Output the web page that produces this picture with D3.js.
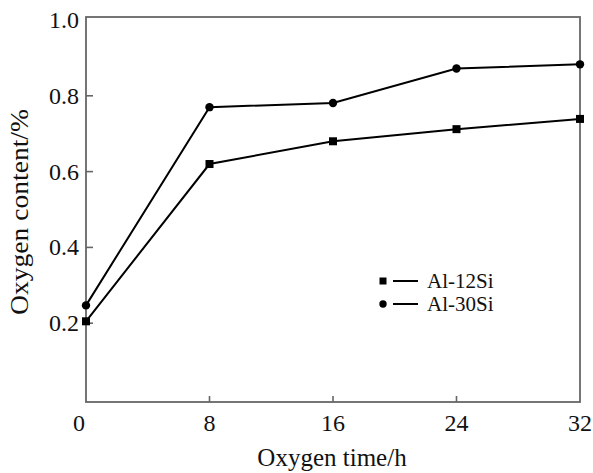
<!DOCTYPE html>
<html>
<head>
<meta charset="utf-8">
<script src="https://cdn.jsdelivr.net/npm/d3@7"></script>
<style>
  body { margin: 0; background: #fff; }
  text { font-family: "Liberation Serif", "Times New Roman", serif; fill: #111; }
</style>
</head>
<body>
<div id="chart"></div>
<script>
// data
const hours = [0, 8, 16, 24, 32];
const al12Si = [0.205, 0.62, 0.68, 0.712, 0.739];
const al30Si = [0.247, 0.77, 0.781, 0.872, 0.883];
const xTicks = [0, 8, 16, 24, 32];
const yTicks = [0.2, 0.4, 0.6, 0.8, 1.0];

const W = 593, H = 473;
const plotL = 86, plotR = 580, plotT = 17, plotB = 402;

const svg = d3.select("#chart").append("svg")
  .attr("width", W)
  .attr("height", H);

const x = d3.scaleLinear().domain([0, 32]).range([plotL, plotR]);
const y = d3.scaleLinear().domain([0, 1]).range([399, 20]);

// frame
svg.append("rect")
  .attr("x", plotL).attr("y", plotT)
  .attr("width", plotR - plotL).attr("height", plotB - plotT)
  .attr("fill", "none")
  .attr("stroke", "#666")
  .attr("stroke-width", 1.8);

// x ticks (inward) + labels
svg.selectAll(".xtick")
  .data(xTicks.filter(d => d > 0 && d < 32))
  .join("line")
    .attr("x1", d => x(d)).attr("x2", d => x(d))
    .attr("y1", plotB).attr("y2", plotB - 6)
    .attr("stroke", "#666").attr("stroke-width", 1.6);

svg.selectAll(".xlab")
  .data(xTicks)
  .join("text")
    .attr("x", d => d === 0 ? x(d) - 7 : x(d))
    .attr("y", 431)
    .attr("text-anchor", "middle")
    .style("font-size", "24px")
    .text(d => d);

// y ticks (inward) + labels
svg.selectAll(".ytick")
  .data(yTicks.filter(d => d < 1))
  .join("line")
    .attr("x1", plotL).attr("x2", plotL + 7)
    .attr("y1", d => y(d)).attr("y2", d => y(d))
    .attr("stroke", "#666").attr("stroke-width", 1.6);

svg.selectAll(".ylab")
  .data(yTicks)
  .join("text")
    .attr("x", 79)
    .attr("y", d => y(d) + 8)
    .attr("text-anchor", "end")
    .style("font-size", "24px")
    .text(d => d3.format(".1f")(d));

// axis titles
svg.append("text")
  .attr("x", 332).attr("y", 466)
  .attr("text-anchor", "middle")
  .style("font-size", "25px")
  .text("Oxygen time/h");

svg.append("text")
  .attr("transform", "translate(28,212) rotate(-90)")
  .attr("text-anchor", "middle")
  .attr("textLength", 206)
  .attr("lengthAdjust", "spacingAndGlyphs")
  .style("font-size", "25px")
  .text("Oxygen content/%");

const line = d3.line()
  .x((d, i) => x(hours[i]))
  .y(d => y(d));

const series = [
  { name: "Al-12Si", values: al12Si, shape: "square" },
  { name: "Al-30Si", values: al30Si, shape: "circle" }
];

function drawMarker(g, shape, cx, cy, s) {
  if (shape === "square") {
    g.append("rect")
      .attr("x", cx - s / 2).attr("y", cy - s / 2)
      .attr("width", s).attr("height", s)
      .attr("fill", "#000");
  } else {
    g.append("circle")
      .attr("cx", cx).attr("cy", cy).attr("r", s / 2 + 0.2)
      .attr("fill", "#000");
  }
}

series.forEach(s => {
  svg.append("path")
    .attr("d", line(s.values))
    .attr("fill", "none")
    .attr("stroke", "#000")
    .attr("stroke-width", 2);
  s.values.forEach((v, i) => drawMarker(svg, s.shape, x(hours[i]), y(v), 8));
});

// legend
const legend = svg.selectAll(".legend")
  .data(series)
  .join("g")
    .attr("transform", (d, i) => `translate(383, ${281 + i * 23})`);

legend.each(function(d) { drawMarker(d3.select(this), d.shape, 0, 0, 7); });

legend.append("line")
  .attr("x1", 10).attr("x2", 35)
  .attr("stroke", "#000").attr("stroke-width", 2);

legend.append("text")
  .attr("x", 44).attr("y", 7)
  .style("font-size", "21px")
  .text(d => d.name);
</script>
</body>
</html>
